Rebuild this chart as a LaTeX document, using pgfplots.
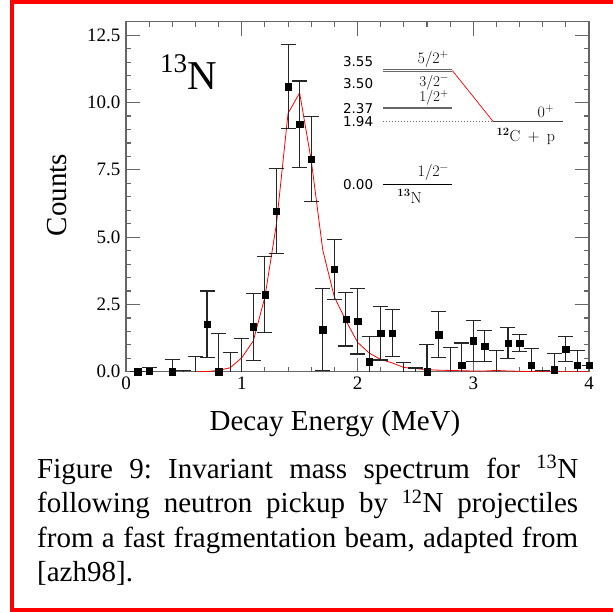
\documentclass[border=0pt]{standalone}
\usepackage{pgfplots}
\pgfplotsset{compat=1.18}
\usepackage{pgfplotstable}
\usepackage{fontspec}
\setmainfont{Liberation Serif}
\newfontfamily\levelfont{DejaVu Sans}
\newfontfamily\spinfont{Latin Modern Roman}

% Measured counts per 0.1 MeV bin: energy, counts, statistical error
\pgfplotstableread{
x    y      e
0.1  0.00   0.00
0.2  0.03   0.14
0.4  0.00   0.45
0.7  1.77   1.23
0.8  0.00   1.42
1.1  1.67   1.25
1.2  2.87   1.40
1.3  5.97   1.57
1.4  10.59  1.55
1.5  9.19   1.61
1.6  7.89   1.58
1.7  1.57   1.53
1.8  3.80   1.10
1.9  1.96   1.00
2.0  1.88   1.22
2.1  0.38   0.92
2.2  1.44   1.00
2.3  1.44   0.87
2.6  0.00   1.01
2.7  1.38   0.86
2.9  0.25   0.82
3.0  1.15   0.77
3.1  0.96   0.57
3.3  1.07   0.58
3.4  1.07   0.33
3.5  0.25   0.61
3.7  0.08   0.60
3.8  0.85   0.47
3.9  0.25   0.55
4.0  0.25   0.00
}\counts

% Empty bins: only the upper error is visible
\pgfplotstableread{
x    y     e
0.5  0.00  0.05
0.6  0.00  0.58
0.9  0.00  0.71
1.0  0.00  1.24
2.4  0.00  0.33
2.5  0.00  0.14
2.8  0.00  0.89
3.2  0.00  0.79
3.6  0.00  0.04
}\emptybins

% Simulated line shape for the 1/2+ resonance
\pgfplotstableread{
x    y
0.6  0.00
0.7  0.01
0.8  0.05
0.9  0.15
1.0  0.52
1.1  1.15
1.2  2.78
1.3  5.50
1.4  9.60
1.5  10.36
1.6  7.86
1.7  4.52
1.8  2.78
1.9  1.90
2.0  1.10
2.1  0.70
2.2  0.46
2.3  0.33
2.4  0.16
2.5  0.12
2.6  0.08
2.7  0.06
2.8  0.05
2.9  0.04
3.0  0.03
3.1  0.03
3.2  0.05
3.3  0.03
3.4  0.02
3.5  0.01
3.6  0.00
3.8  0.00
4.0  0.00
}\fit

\definecolor{axisgray}{HTML}{666666}

\begin{document}
\frenchspacing
\begin{tikzpicture}[x=1pt,y=1pt]
\useasboundingbox (0,0) rectangle (613,611);

% page frame
\draw[red, line width=4pt] (620,609) -- (12,609) -- (12,1.5) -- (620,1.5);

\begin{axis}[
  at={(126pt,239.2pt)}, anchor=south west,
  scale only axis, width=463pt, height=350pt,
  xmin=0, xmax=4, ymin=0, ymax=13,
  xtick={0,1,2,3,4}, ytick={0,2.5,5,7.5,10,12.5},
  minor x tick num=4, minor y tick num=4,
  tick align=inside,
  major tick length=14pt, minor tick length=5pt,
  axis line style={axisgray, line width=1.3pt},
  every tick/.style={axisgray, line width=1.1pt},
  tick label style={font=\fontsize{19}{22}\selectfont},
  /pgf/number format/assume math mode=true,
  xticklabel style={yshift=-2pt},
  yticklabel style={xshift=-2pt, /pgf/number format/.cd, fixed, fixed zerofill, precision=1},
]

% fitted line shape
\addplot[red, line width=0.8pt, mark=none] table[x=x, y=y] {\fit};

% data with symmetric errors
\addplot[black, only marks, mark=square*, mark size=3.2pt,
  error bars/.cd, y dir=both, y explicit,
  error bar style={black!85, line width=1.1pt},
  error mark options={rotate=90, mark size=7.5pt, line width=1.1pt, black!85}]
  table[x=x, y=y, y error=e] {\counts};

% empty bins: error bars only
\addplot[draw=none, mark=none,
  error bars/.cd, y dir=plus, y explicit,
  error bar style={draw=black!85, line width=1.1pt},
  error mark options={rotate=90, mark size=7.5pt, line width=1.1pt, draw=black!85}]
  table[x=x, y=y, y error=e] {\emptybins};

% level scheme of 13N and the 12C + p threshold
\addplot[axisgray, line width=1.5pt, mark=none] coordinates {(2.223,11.222) (2.819,11.222)};
\addplot[axisgray, line width=1.5pt, mark=none] coordinates {(2.223,11.163) (2.819,11.163)};
\addplot[axisgray, line width=1.7pt, mark=none] coordinates {(2.223,9.807) (2.819,9.807)};
\addplot[black, line width=1.1pt, mark=none] coordinates {(2.223,6.965) (2.819,6.965)};
\addplot[axisgray, line width=1.0pt, dotted, mark=none] coordinates {(2.223,9.29) (3.173,9.29)};
\addplot[black!75, line width=1.3pt, mark=none] coordinates {(3.173,9.29) (3.773,9.29)};
\addplot[red, line width=0.7pt, mark=none] coordinates {(2.819,11.19) (3.173,9.29)};

\begin{scope}[every node/.style={inner sep=0pt}]
\node[anchor=east] at (axis cs:2.137,11.52) {\levelfont\fontsize{13.5}{15}\selectfont 3.55};
\node[anchor=east] at (axis cs:2.137,10.72) {\levelfont\fontsize{13.5}{15}\selectfont 3.50};
\node[anchor=east] at (axis cs:2.137,9.76) {\levelfont\fontsize{13.5}{15}\selectfont 2.37};
\node[anchor=east] at (axis cs:2.137,9.29) {\levelfont\fontsize{13.5}{15}\selectfont 1.94};
\node[anchor=east] at (axis cs:2.137,6.94) {\levelfont\fontsize{13.5}{15}\selectfont 0.00};
\node[anchor=south east] at (axis cs:2.79,11.30) {\spinfont\fontsize{16}{18}\selectfont 5/2\textsuperscript{+}};
\node[anchor=north east] at (axis cs:2.79,11.04) {\spinfont\fontsize{15}{17}\selectfont 3/2\textsuperscript{\textminus}};
\node[anchor=south east] at (axis cs:2.79,9.90) {\spinfont\fontsize{15}{17}\selectfont 1/2\textsuperscript{+}};
\node[anchor=south east] at (axis cs:3.70,9.41) {\spinfont\fontsize{16}{18}\selectfont 0\textsuperscript{+}};
\node[anchor=north west] at (axis cs:3.20,9.05) {\spinfont\fontsize{16}{18}\selectfont \textsuperscript{\textbf{12}}C\ \,+\ \,p};
\node[anchor=south east] at (axis cs:2.79,7.08) {\spinfont\fontsize{16}{18}\selectfont 1/2\textsuperscript{\textminus}};
\node[anchor=north] at (axis cs:2.45,6.78) {\spinfont\fontsize{16}{18}\selectfont \textsuperscript{\textbf{13}}N};
\end{scope}
\end{axis}

% nucleus label
\node[anchor=base west, inner sep=0pt] at (160,521)
  {\raisebox{17pt}{\fontsize{27}{30}\selectfont 13}\fontsize{41}{45}\selectfont N};

% axis titles
\node[rotate=90, inner sep=0pt] at (57,416) {\fontsize{29}{34}\selectfont Counts};
\node[anchor=base, inner sep=0pt] at (335,181) {\fontsize{29}{34}\selectfont Decay Energy (MeV)};

% caption
\node[anchor=base west, inner sep=0pt] at (37,133) {%
  \parbox[t]{541pt}{\fontsize{29}{34.5}\selectfont
  Figure 9: Invariant mass spectrum for \textsuperscript{13}N\linebreak{}
  following neutron pickup by \textsuperscript{12}N projectiles\linebreak{}
  from a fast fragmentation beam, adapted from\linebreak{}
  {[}azh98{]}.}};
\end{tikzpicture}
\end{document}
